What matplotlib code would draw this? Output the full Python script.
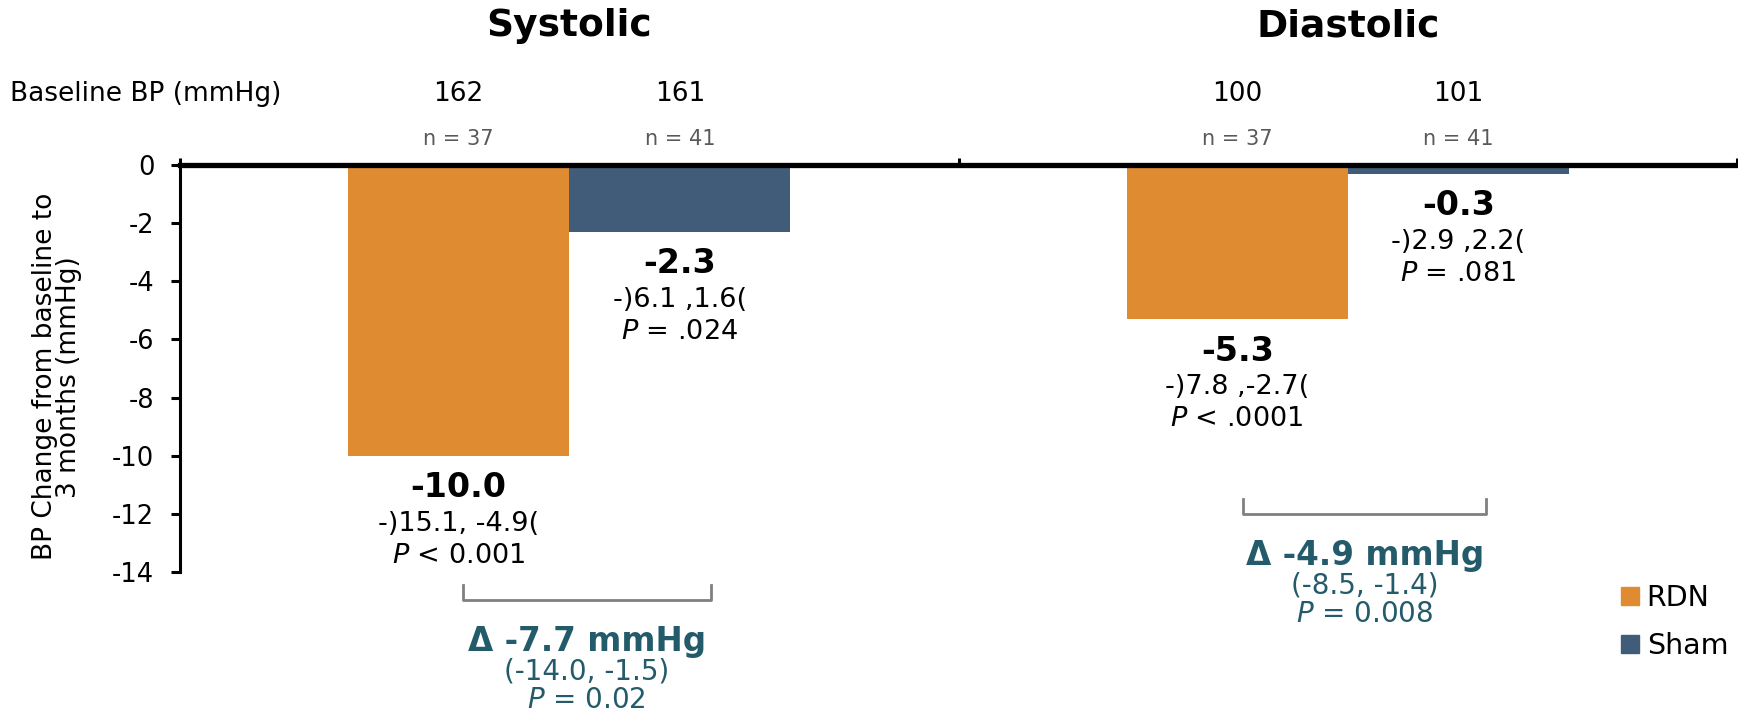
import matplotlib

matplotlib.use("Agg")

import matplotlib.pyplot as plt
import numpy as np
from matplotlib.lines import Line2D

# data
groups = ["Systolic", "Diastolic"]
series = ["RDN", "Sham"]
rdn_change = [-10.0, -5.3]
sham_change = [-2.3, -0.3]
rdn_baseline = [162, 100]
sham_baseline = [161, 101]
rdn_n = [37, 37]
sham_n = [41, 41]
rdn_ci = ["-)15.1, -4.9(", "-)7.8 ,-2.7("]
sham_ci = ["-)6.1 ,1.6(", "-)2.9 ,2.2("]
rdn_p = [r"$\it{P}$ < 0.001", r"$\it{P}$ < .0001"]
sham_p = [r"$\it{P}$ = .024", r"$\it{P}$ = .081"]
delta_text = ["Δ -7.7 mmHg", "Δ -4.9 mmHg"]
delta_ci = ["(-14.0, -1.5)", "(-8.5, -1.4)"]
delta_p = [r"$\it{P}$ = 0.02", r"$\it{P}$ = 0.008"]
yticks = [0, -2, -4, -6, -8, -10, -12, -14]

ORANGE = "#DF8B31"
BLUE = "#415C79"
TEAL = "#245B6B"
GRAY = "#595959"

plt.rcParams["font.family"] = ["DejaVu Sans"]
plt.rcParams["mathtext.fontset"] = "dejavusans"

fig = plt.figure(figsize=(17.38, 7.16), dpi=100)
ax = fig.add_axes([180 / 1738, 1 - 572 / 716, 1557 / 1738, (572 - 165) / 716])

x = np.arange(len(groups))
w = 0.284
ax.bar(x - w / 2, rdn_change, w, color=ORANGE, label="RDN", zorder=2)
ax.bar(x + w / 2, sham_change, w, color=BLUE, label="Sham", zorder=2)

ax.set_xlim(-0.5, 1.5)
ax.set_ylim(-14, 0)

# category line sits on top at y = 0
for s in ["bottom", "right"]:
    ax.spines[s].set_visible(False)
ax.spines["top"].set_linewidth(3.8)
ax.spines["top"].set_zorder(3)
ax.spines["left"].set_linewidth(2.2)
ax.xaxis.tick_top()
ax.set_xticks([-0.5, 0.5, 1.5])
ax.tick_params(axis="x", direction="out", length=5, width=2.2, labeltop=False)
ax.set_yticks(yticks)
ax.set_yticklabels([str(t) for t in yticks])
ax.tick_params(axis="y", direction="out", length=6.5, width=2.2, labelsize=18.5, pad=12)
ax.set_ylabel("BP Change from baseline to\n3 months (mmHg)", fontsize=19, linespacing=0.92)
ax.yaxis.set_label_coords(-0.063, 0.48)


def bar_labels(xpos, val, ci, p):
    ax.annotate(f"{val:.1f}", (xpos, val), xytext=(0, -23), textcoords="offset points",
                ha="center", va="center", fontsize=24, fontweight="bold")
    ax.annotate(ci, (xpos, val), xytext=(0, -49), textcoords="offset points",
                ha="center", va="center", fontsize=19.5)
    ax.annotate(p, (xpos, val), xytext=(0, -72), textcoords="offset points",
                ha="center", va="center", fontsize=19.5)


for i in range(len(groups)):
    bar_labels(x[i] - w / 2, rdn_change[i], rdn_ci[i], rdn_p[i])
    bar_labels(x[i] + w / 2, sham_change[i], sham_ci[i], sham_p[i])

# header rows above the axis
for i, g in enumerate(groups):
    ax.annotate(g, (x[i], 0), xytext=(0, 100), textcoords="offset points",
                ha="center", va="center", fontsize=27, fontweight="bold",
                annotation_clip=False)
    for xp, base, n in [(x[i] - w / 2, rdn_baseline[i], rdn_n[i]),
                        (x[i] + w / 2, sham_baseline[i], sham_n[i])]:
        ax.annotate(str(base), (xp, 0), xytext=(0, 51), textcoords="offset points",
                    ha="center", va="center", fontsize=19, annotation_clip=False)
        ax.annotate(f"n = {n}", (xp, 0), xytext=(0, 19), textcoords="offset points",
                    ha="center", va="center", fontsize=15, color=GRAY,
                    annotation_clip=False)

fig.text(10 / 1738, 1 - 94 / 716, "Baseline BP (mmHg)", ha="left", va="center", fontsize=19)

# treatment difference brackets
brackets = [(-0.137, 0.182, -14.95, -14.45), (0.866, 1.178, -11.99, -11.5)]
for i, (x0, x1, yb, yt) in enumerate(brackets):
    ax.plot([x0, x0, x1, x1], [yt, yb, yb, yt], color="#808080", lw=2,
            clip_on=False, solid_joinstyle="round")
    xc = (x0 + x1) / 2
    ax.annotate(delta_text[i], (xc, yb), xytext=(0, -30), textcoords="offset points",
                ha="center", va="center", fontsize=23.5, fontweight="bold", color=TEAL,
                annotation_clip=False)
    ax.annotate(delta_ci[i], (xc, yb), xytext=(0, -52), textcoords="offset points",
                ha="center", va="center", fontsize=20, color=TEAL,
                annotation_clip=False)
    ax.annotate(delta_p[i], (xc, yb), xytext=(0, -72), textcoords="offset points",
                ha="center", va="center", fontsize=20, color=TEAL,
                annotation_clip=False)

handles = [Line2D([], [], marker="s", ls="none", color=ORANGE, markersize=13),
           Line2D([], [], marker="s", ls="none", color=BLUE, markersize=13)]
fig.legend(handles, series, loc="upper left", bbox_to_anchor=(1604 / 1738, 1 - 573 / 716),
           frameon=False, fontsize=20.5, handletextpad=0.1, labelspacing=0.7,
           borderaxespad=0, handlelength=1.0)

fig.savefig("out.png", dpi=100)
